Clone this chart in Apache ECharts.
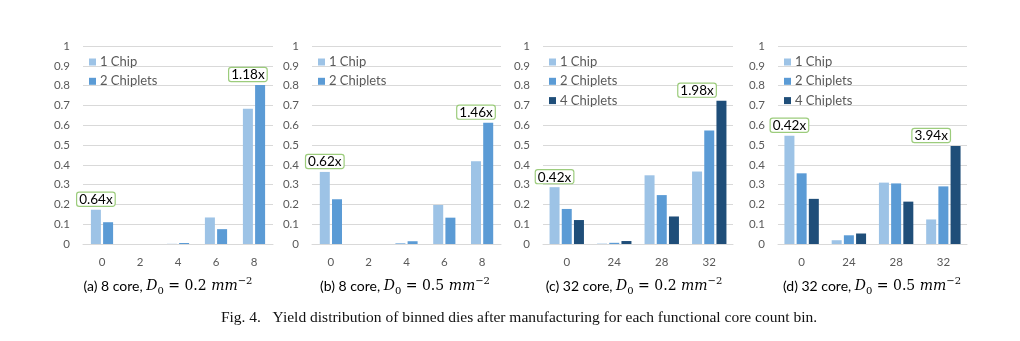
<!DOCTYPE html>
<html><head><meta charset="utf-8">
<script src="https://cdn.jsdelivr.net/npm/echarts@6/dist/echarts.min.js"></script>
<style>html,body{margin:0;padding:0;background:#fff}#c{width:1020px;height:341px}</style>
</head><body><div id="c"></div>
<script>
// ---- data ----
const catsA = ['0', '2', '4', '6', '8'];
const catsB = ['0', '2', '4', '6', '8'];
const catsC = ['0', '24', '28', '32'];
const catsD = ['0', '24', '28', '32'];
const seriesNames = ['1 Chip', '2 Chiplets', '4 Chiplets'];

const a1 = [0.173, 0, 0.001, 0.134, 0.683];
const a2 = [0.110, 0, 0.005, 0.075, 0.803];
const b1 = [0.364, 0, 0.005, 0.197, 0.418];
const b2 = [0.226, 0, 0.014, 0.133, 0.613];
const c1 = [0.287, 0.002, 0.347, 0.366];
const c2 = [0.177, 0.006, 0.247, 0.573];
const c4 = [0.121, 0.015, 0.139, 0.724];
const d1 = [0.547, 0.019, 0.310, 0.124];
const d2 = [0.357, 0.044, 0.306, 0.291];
const d4 = [0.228, 0.053, 0.214, 0.495];

const annCatsA = ['0', '8'];   const annTextA = ['0.64x', '1.18x'];
const annCatsB = ['0', '8'];   const annTextB = ['0.62x', '1.46x'];
const annCatsC = ['0', '32'];  const annTextC = ['0.42x', '1.98x'];
const annCatsD = ['0', '32'];  const annTextD = ['0.42x', '3.94x'];

const captionLabels = ['(a) 8 core, ', '(b) 8 core, ', '(c) 32 core, ', '(d) 32 core, '];
const captionD0 = ['0.2', '0.5', '0.2', '0.5'];
const figCaption = 'Fig. 4.\u2002 Yield distribution of binned dies after manufacturing for each functional core count bin.';

// ---- styling / layout ----
const colors = ['#9dc3e6', '#5b9bd5', '#1f4e79'];
const FONT = 'Lato';
const panels = [
  { cats: catsA, data: [a1, a2], annCats: annCatsA, annText: annTextA, left: 83, width: 190, cx: 168 },
  { cats: catsB, data: [b1, b2], annCats: annCatsB, annText: annTextB, left: 312, width: 189, cx: 405 },
  { cats: catsC, data: [c1, c2, c4], annCats: annCatsC, annText: annTextC, left: 543, width: 190, cx: 634 },
  { cats: catsD, data: [d1, d2, d4], annCats: annCatsD, annText: annTextD, left: 778, width: 189, cx: 872 }
];

const grid = [], xAxis = [], yAxis = [], series = [], legend = [], graphic = [];
panels.forEach((p, i) => {
  grid.push({ left: p.left, width: p.width, top: 46, height: 198 });
  xAxis.push({
    type: 'category', gridIndex: i, data: p.cats,
    axisTick: { show: false },
    axisLine: { lineStyle: { color: '#d9d9d9', width: 1 } },
    axisLabel: { color: '#595959', fontSize: 11.5, fontFamily: FONT, margin: 12 }
  });
  yAxis.push({
    type: 'value', gridIndex: i, min: 0, max: 1, interval: 0.1,
    axisLine: { show: false }, axisTick: { show: false },
    splitLine: { lineStyle: { color: '#d9d9d9', width: 1 } },
    axisLabel: { color: '#595959', fontSize: 11.5, fontFamily: FONT, margin: 13 }
  });
  const names = [];
  p.data.forEach((vals, k) => {
    names.push(seriesNames[k]);
    const s = {
      type: 'bar', name: seriesNames[k], xAxisIndex: i, yAxisIndex: i, data: vals,
      barWidth: 10, barGap: '22%', itemStyle: { color: colors[k] }, animation: false
    };
    if (k === 0) {
      s.markPoint = {
        symbol: 'rect', symbolSize: 0, animation: false,
        label: {
          show: true, position: 'top', distance: 4, formatter: '{b}',
          color: '#000', fontSize: 13.5, fontFamily: FONT,
          backgroundColor: '#fff', borderColor: '#9ccc7c', borderWidth: 1.2, borderRadius: 2,
          padding: [0, 2, -1, 2]
        },
        data: p.annCats.map((c, j) => {
          const ci = p.cats.indexOf(c);
          const mx = Math.max(...p.data.map(arr => arr[ci]));
          return { name: p.annText[j], coord: [c, mx] };
        })
      };
    }
    series.push(s);
  });
  legend.push({
    data: names, orient: 'vertical', left: p.left + 1, top: 50.5,
    icon: 'rect', itemWidth: 7, itemHeight: 7, itemGap: 6.3, selectedMode: false,
    textStyle: { color: '#595959', fontSize: 13, fontFamily: FONT, padding: [0, 0, 0, -1] }
  });
  graphic.push({
    type: 'text', x: p.cx, y: 286,
    style: {
      text: '{t|' + captionLabels[i] + '}{i|D}{s|0}{n| = ' + captionD0[i] + ' }{i|mm}{p|\u22122}',
      textAlign: 'center', textVerticalAlign: 'middle',
      rich: {
        t: { font: '14px Lato', fill: '#000', lineHeight: 20 },
        i: { font: 'italic 14px "DejaVu Serif"', fill: '#000', lineHeight: 20 },
        n: { font: '14px "DejaVu Serif"', fill: '#000', lineHeight: 20 },
        s: { font: '10px "DejaVu Serif"', fill: '#000', lineHeight: 12, verticalAlign: 'bottom' },
        p: { font: '10px "DejaVu Serif"', fill: '#000', lineHeight: 12, verticalAlign: 'top' }
      }
    }
  });
});
graphic.push({
  type: 'text', x: 519, y: 318,
  style: { text: figCaption, textAlign: 'center', textVerticalAlign: 'middle',
    font: '15.5px "Liberation Serif"', fill: '#111' }
});

const chart = echarts.init(document.getElementById('c'), null, { renderer: 'canvas' });
chart.setOption({
  animation: false, backgroundColor: '#fff',
  grid, xAxis, yAxis, series, legend, graphic
});
</script></body></html>
